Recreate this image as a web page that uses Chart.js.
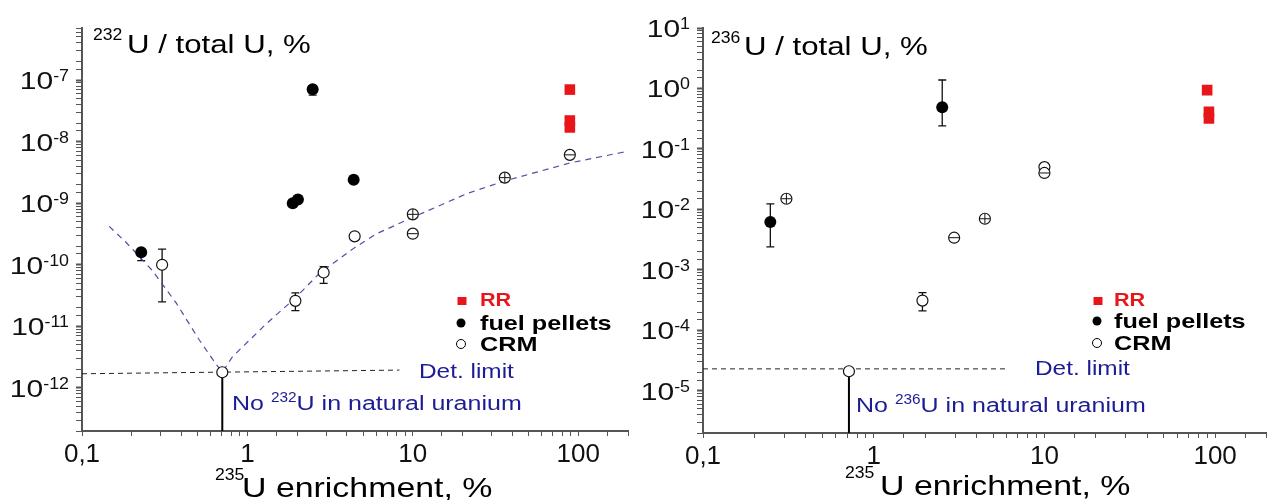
<!DOCTYPE html>
<html>
<head>
<meta charset="utf-8">
<script src="https://cdn.jsdelivr.net/npm/chart.js@4.4.1/dist/chart.umd.min.js"></script>
<style>
    html, body { margin: 0; padding: 0; background: #fff; }
    #wrap { position: relative; width: 1274px; height: 500px; overflow: hidden; }
    #wrap canvas { position: absolute; top: 0; }
    #c232 { left: 0; }
    #c236 { left: 637px; }
</style>
</head>
<body>
<div id="wrap">
    <canvas id="c232" width="637" height="500"></canvas>
    <canvas id="c236" width="637" height="500"></canvas>
</div>
<script>
// x axis: 235U enrichment, %  (log)
var xMin = 0.1, xMax = 200;
var xTickValues = [0.1, 1, 10, 100];
var xTickLabels = ["0,1", "1", "10", "100"];

// ---- 232U / total U, % ----
var u232YMin = 2e-13, u232YMax = 7e-7;
var u232Decades = [-12, -11, -10, -9, -8, -7];

var u232RrX = [89, 89, 89];
var u232RrY = [7.0e-8, 2.2e-8, 1.7e-8];

var u232FuelX = [0.228, 1.88, 2.02, 2.48, 4.39];
var u232FuelY = [1.6e-10, 1.0e-9, 1.15e-9, 7.1e-8, 2.4e-9];
var u232FuelLo = [1.17e-10, 9.0e-10, null, 5.7e-8, null];
var u232FuelHi = [null, null, null, null, null];

var u232CrmX = [0.305, 0.705, 1.95, 2.89, 4.45, 10, 10, 36, 89];
var u232CrmY = [1.0e-10, 1.8e-12, 2.6e-11, 7.5e-11, 2.9e-10, 6.6e-10, 3.2e-10, 2.6e-9, 6.1e-9];
var u232CrmLo = [2.5e-11, null, 1.8e-11, 5.0e-11, null, null, null, null, null];
var u232CrmHi = [1.8e-10, null, 3.5e-11, 9.3e-11, null, null, null, null, null];

var u232TrendX = [0.146, 0.185, 0.266, 0.371, 0.512, 0.649, 0.705, 0.811, 1.30, 1.95, 2.73, 4.45, 6.05, 10, 21.2, 36, 89, 180, 200];
var u232TrendY = [4.2e-10, 2.3e-10, 8.1e-11, 2.4e-11, 6.0e-12, 2.4e-12, 1.8e-12, 3.2e-12, 1.1e-11, 2.9e-11, 7.3e-11, 1.9e-10, 3.2e-10, 5.9e-10, 1.43e-9, 2.3e-9, 4.5e-9, 6.6e-9, 7.0e-9];

var u232DetX = [0.1, 8.3];
var u232DetY = [1.7e-12, 1.95e-12];
var u232NatX = [0.705, 0.705];
var u232NatY = [1.8e-12, 2e-13];

// ---- 236U / total U, % ----
var u236YMin = 2e-6, u236YMax = 10;
var u236Decades = [-5, -4, -3, -2, -1, 0, 1];

var u236RrX = [89.8, 92, 92];
var u236RrY = [0.94, 0.41, 0.32];

var u236FuelX = [0.248, 2.52];
var u236FuelY = [6.2e-3, 0.49];
var u236FuelLo = [2.4e-3, 0.24];
var u236FuelHi = [1.23e-2, 1.38];

var u236CrmX = [0.308, 0.716, 1.93, 2.96, 4.48, 10, 10];
var u236CrmY = [1.5e-2, 2.1e-5, 3.1e-4, 3.4e-3, 7.0e-3, 0.050, 0.040];
var u236CrmLo = [null, null, 2.1e-4, null, null, null, null];
var u236CrmHi = [null, null, 4.2e-4, null, null, null, null];

var u236DetX = [0.1, 5.9];
var u236DetY = [2.3e-5, 2.3e-5];
var u236NatX = [0.716, 0.716];
var u236NatY = [2.1e-5, 2e-6];


// styles
var FONT = "'Liberation Sans', Arial, sans-serif";
var BLUE = '#1c1c94';
var RED = '#e8151b';
var AXIS = '#555';
// inner marks of the CRM symbols (error bars smaller than the symbol)
var u232CrmInner = [null, null, null, null, null, 'cross', 'line', 'cross', 'line'];
var u236CrmInner = ['cross', null, null, 'line', 'cross', null, 'line'];

function pts(xs, ys) {
    return xs.map(function (x, i) { return {x: x, y: ys[i]}; });
}

// draw text pieces, stretched a bit horizontally like the original figure
function drawRuns(ctx, runs, x) {
    var cx = x;
    runs.forEach(function (r) {
        ctx.font = r.font;
        ctx.fillStyle = r.color || '#000';
        ctx.textAlign = 'left';
        ctx.textBaseline = 'alphabetic';
        ctx.save();
        ctx.translate(cx, r.y);
        ctx.scale(r.sx || 1, 1);
        ctx.fillText(r.t, 0, 0);
        ctx.restore();
        cx += ctx.measureText(r.t).width * (r.sx || 1) + (r.gap || 0);
    });
    return cx;
}

function runsWidth(ctx, runs) {
    var w = 0;
    runs.forEach(function (r) {
        ctx.font = r.font;
        w += ctx.measureText(r.t).width * (r.sx || 1) + (r.gap || 0);
    });
    return w;
}

// Error bars
var errorBars = {
    id: 'errorBars',
    beforeDatasetsDraw: function (chart) {
        var ctx = chart.ctx, xs = chart.scales.x, ys = chart.scales.y;
        chart.data.datasets.forEach(function (ds) {
            if (!ds.errLo) return;
            ctx.save();
            ctx.strokeStyle = '#111';
            ctx.lineWidth = 1.3;
            ds.data.forEach(function (p, j) {
                var lo = ds.errLo[j], hi = ds.errHi[j];
                if (lo == null && hi == null) return;
                var px = xs.getPixelForValue(p.x), py = ys.getPixelForValue(p.y);
                var top = hi == null ? py : ys.getPixelForValue(hi);
                var bot = lo == null ? py : ys.getPixelForValue(lo);
                ctx.beginPath();
                ctx.moveTo(px, top);
                ctx.lineTo(px, bot);
                if (hi != null) { ctx.moveTo(px - 4, top); ctx.lineTo(px + 4, top); }
                if (lo != null) { ctx.moveTo(px - 4, bot); ctx.lineTo(px + 4, bot); }
                ctx.stroke();
            });
            ctx.restore();
        });
    }
};

// Titles, y tick labels, notes and legend
var decorations = {
    id: 'decorations',
    afterDraw: function (chart) {
        var p = chart.options.plugins.decorations;
        var ctx = chart.ctx, ys = chart.scales.y;
        ctx.save();

        // y tick labels 10^n
        p.decades.forEach(function (d) {
            var py = ys.getPixelForValue(Math.pow(10, d));
            var runs = [
                {t: '10', font: '24px ' + FONT, sx: 1.25, y: py + 9, color: '#111'},
                {t: String(d), font: '17px ' + FONT, sx: 1.05, y: py + 1, color: '#111'}
            ];
            var w = runsWidth(ctx, runs);
            drawRuns(ctx, runs, chart.chartArea.left - 13 - w);
        });

        var t = p.text;
        // y axis title
        drawRuns(ctx, [{t: p.iso, font: '16px ' + FONT, sx: 1.1, y: t.yTitle[1]}], t.yTitle[0]);
        drawRuns(ctx, [{t: 'U / total U, %', font: '26px ' + FONT, sx: 1.2, y: t.yTitle[3]}], t.yTitle[2]);
        // x axis title
        drawRuns(ctx, [{t: '235', font: '16px ' + FONT, sx: 1.1, y: t.xTitle[1]}], t.xTitle[0]);
        drawRuns(ctx, [{t: 'U enrichment, %', font: '28px ' + FONT, sx: 1.21, y: t.xTitle[3]}], t.xTitle[2]);

        // notes
        drawRuns(ctx, [{t: 'Det. limit', font: '20px ' + FONT, sx: 1.22, y: t.det[1], color: BLUE}], t.det[0]);
        drawRuns(ctx, [
            {t: 'No ', font: '20px ' + FONT, sx: 1.25, y: t.nat[1], color: BLUE},
            {t: p.iso, font: '14px ' + FONT, sx: 1.1, y: t.nat[1] - 8, color: BLUE},
            {t: 'U in natural uranium', font: '20px ' + FONT, sx: 1.25, y: t.nat[1], color: BLUE}
        ], t.nat[0]);

        // legend
        var L = t.legend;
        ctx.fillStyle = RED;
        ctx.fillRect(L.sq[0] - 4.5, L.sq[1] - 4, 9, 8);
        ctx.fillStyle = '#000';
        ctx.beginPath();
        ctx.arc(L.mx, L.rows[1] - 7, 4.5, 0, Math.PI * 2);
        ctx.fill();
        ctx.beginPath();
        ctx.arc(L.mx, L.rows[2] - 7, 4.5, 0, Math.PI * 2);
        ctx.lineWidth = 1;
        ctx.strokeStyle = '#000';
        ctx.stroke();
        drawRuns(ctx, [{t: 'RR', font: 'bold 18px ' + FONT, sx: 1.2, y: L.rows[0], color: RED}], L.x);
        drawRuns(ctx, [{t: 'fuel pellets', font: 'bold 21px ' + FONT, sx: 1.2, y: L.rows[1]}], L.x);
        drawRuns(ctx, [{t: 'CRM', font: 'bold 21px ' + FONT, sx: 1.2, y: L.rows[2]}], L.x);

        ctx.restore();
    }
};

function makePanel(canvasId, d) {
    var ctx = document.getElementById(canvasId).getContext('2d');
    return new Chart(ctx, {
        type: 'scatter',
        data: {
            datasets: [
                {
                    label: 'RR',
                    data: pts(d.rrX, d.rrY),
                    pointStyle: 'rect',
                    pointRadius: 7.5,
                    backgroundColor: RED,
                    borderColor: RED,
                    borderWidth: 0
                },
                {
                    label: 'CRM inner',
                    data: pts(d.crmX, d.crmY),
                    pointStyle: function (c) { return d.crmInner[c.dataIndex] || 'circle'; },
                    pointRadius: function (c) { return d.crmInner[c.dataIndex] ? 5 : 0; },
                    borderColor: '#111',
                    borderWidth: 1,
                    backgroundColor: 'rgba(0,0,0,0)'
                },
                {
                    label: 'CRM',
                    data: pts(d.crmX, d.crmY),
                    errLo: d.crmLo,
                    errHi: d.crmHi,
                    pointStyle: 'circle',
                    pointRadius: 5.5,
                    backgroundColor: '#fff',
                    borderColor: '#111',
                    borderWidth: 1.2
                },
                {
                    label: 'fuel pellets',
                    data: pts(d.fuelX, d.fuelY),
                    errLo: d.fuelLo,
                    errHi: d.fuelHi,
                    pointStyle: 'circle',
                    pointRadius: 6,
                    backgroundColor: '#000',
                    borderColor: '#000',
                    borderWidth: 0
                },
                {
                    label: 'natural uranium',
                    data: pts(d.natX, d.natY),
                    showLine: true,
                    pointRadius: 0,
                    borderColor: '#000',
                    borderWidth: 2
                },
                {
                    label: 'Det. limit',
                    data: pts(d.detX, d.detY),
                    showLine: true,
                    pointRadius: 0,
                    borderColor: '#222',
                    borderWidth: 1,
                    borderDash: [5, 4]
                },
                {
                    label: 'trend',
                    data: d.trendX ? pts(d.trendX, d.trendY) : [],
                    showLine: true,
                    pointRadius: 0,
                    borderColor: '#4b4fa6',
                    borderWidth: 1.2,
                    borderDash: [6, 5],
                    tension: 0
                }
            ]
        },
        options: {
            responsive: false,
            animation: false,
            events: [],
            layout: { padding: { top: 28, right: d.padRight, left: 0, bottom: 0 } },
            scales: {
                x: {
                    type: 'logarithmic',
                    min: xMin,
                    max: xMax,
                    afterFit: function (s) { s.height = d.xHeight; },
                    border: { display: true, color: AXIS, width: 2 },
                    grid: {
                        drawOnChartArea: false,
                        drawTicks: true,
                        tickLength: 5,
                        tickColor: AXIS,
                        tickWidth: 1
                    },
                    ticks: {
                        autoSkip: false,
                        maxRotation: 0,
                        padding: 3,
                        color: '#111',
                        font: { family: FONT, size: 26 },
                        callback: function (v) {
                            for (var i = 0; i < xTickValues.length; i++) {
                                if (Math.abs(v - xTickValues[i]) < xTickValues[i] * 1e-6) return xTickLabels[i];
                            }
                            return '';
                        }
                    }
                },
                y: {
                    type: 'logarithmic',
                    min: d.yMin,
                    max: d.yMax,
                    afterFit: function (s) { s.width = d.yWidth; },
                    border: { display: true, color: AXIS, width: 2 },
                    grid: {
                        drawOnChartArea: false,
                        drawTicks: true,
                        tickLength: 6,
                        tickColor: AXIS,
                        tickWidth: function (c) {
                            var l = Math.log10(c.tick.value);
                            return Math.abs(l - Math.round(l)) < 1e-6 ? 2 : 1;
                        }
                    },
                    ticks: {
                        autoSkip: false,
                        callback: function () { return ''; }
                    }
                }
            },
            plugins: {
                legend: { display: false },
                tooltip: { enabled: false },
                decorations: {
                    iso: d.iso,
                    decades: d.decades,
                    text: d.text
                }
            }
        },
        plugins: [errorBars, decorations]
    });
}

makePanel('c232', {
    iso: '232',
    yMin: u232YMin, yMax: u232YMax, decades: u232Decades,
    yWidth: 82, xHeight: 69, padRight: 9,
    rrX: u232RrX, rrY: u232RrY,
    fuelX: u232FuelX, fuelY: u232FuelY, fuelLo: u232FuelLo, fuelHi: u232FuelHi,
    crmX: u232CrmX, crmY: u232CrmY, crmLo: u232CrmLo, crmHi: u232CrmHi, crmInner: u232CrmInner,
    trendX: u232TrendX, trendY: u232TrendY,
    detX: u232DetX, detY: u232DetY,
    natX: u232NatX, natY: u232NatY,
    text: {
        yTitle: [93, 40, 127, 53],
        xTitle: [215, 480, 242, 497],
        det: [419, 378],
        nat: [232, 410],
        legend: { sq: [462, 301], mx: 461, x: 480, rows: [306, 330, 351] }
    }
});

makePanel('c236', {
    iso: '236',
    yMin: u236YMin, yMax: u236YMax, decades: u236Decades,
    yWidth: 66, xHeight: 67, padRight: 2,
    rrX: u236RrX, rrY: u236RrY,
    fuelX: u236FuelX, fuelY: u236FuelY, fuelLo: u236FuelLo, fuelHi: u236FuelHi,
    crmX: u236CrmX, crmY: u236CrmY, crmLo: u236CrmLo, crmHi: u236CrmHi, crmInner: u236CrmInner,
    trendX: null, trendY: null,
    detX: u236DetX, detY: u236DetY,
    natX: u236NatX, natY: u236NatY,
    text: {
        yTitle: [74, 43, 107, 55],
        xTitle: [208, 478, 243, 495],
        det: [398, 375],
        nat: [219, 412],
        legend: { sq: [461, 301], mx: 460, x: 477, rows: [306, 328, 350] }
    }
});
</script>
</body>
</html>
